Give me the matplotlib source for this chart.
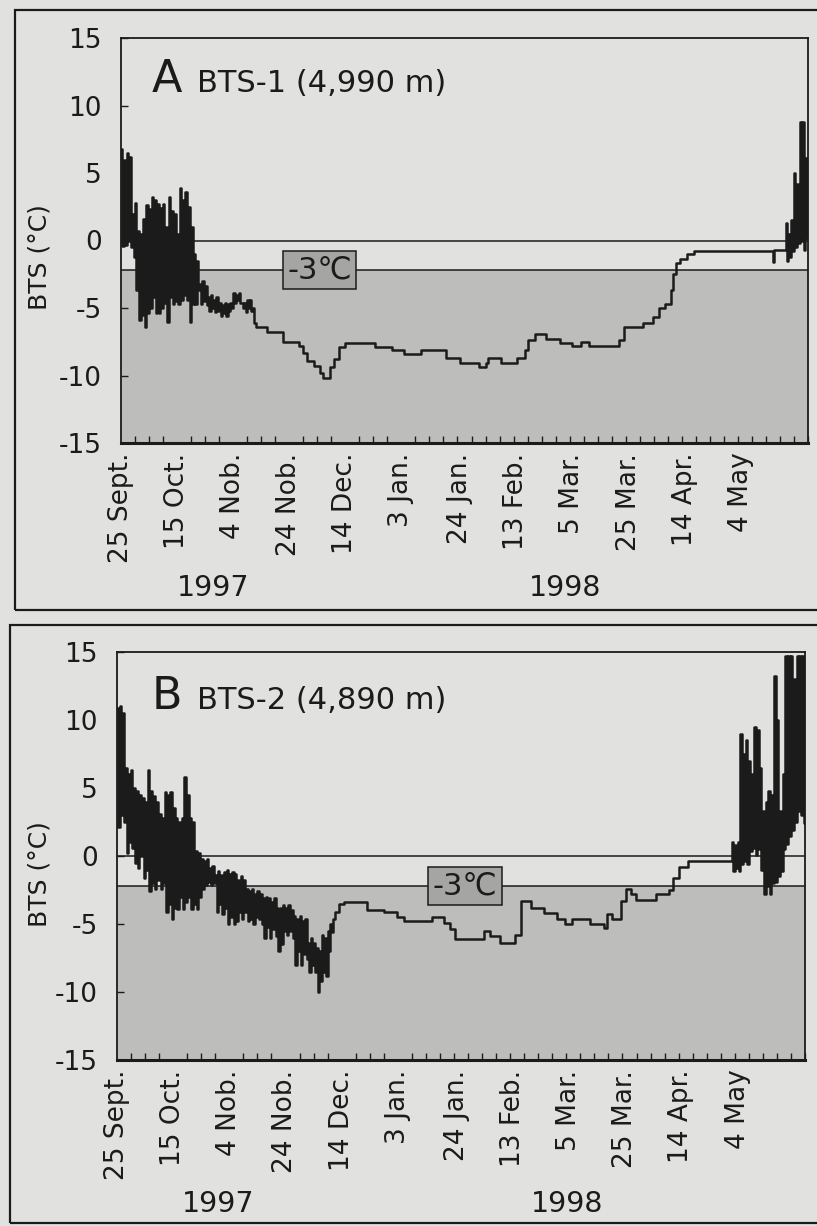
import matplotlib
matplotlib.use("Agg")
import matplotlib.pyplot as plt
from matplotlib.patches import Rectangle

plt.rcParams['font.family'] = ['DejaVu Sans', 'Noto Sans CJK JP']
plt.rcParams['axes.unicode_minus'] = False

# x axis: days after 25 Sept. 1997
tick_days = [0, 20, 40, 60, 80, 100, 121, 141, 161, 181, 201, 221]
tick_labels = ['25 Sept.', '15 Oct.', '4 Nob.', '24 Nob.', '14 Dec.', '3 Jan.',
               '24 Jan.', '13 Feb.', '5 Mar.', '25 Mar.', '14 Apr.', '4 May']
y_ticks = [15, 10, 5, 0, -5, -10, -15]
threshold = -2.2   # drawn position of the "-3℃" line

# ---------------- BTS-1 (4,990 m) ----------------
# daily max / min in the noisy autumn part (day 0..47)
a_start_hi = [6.8, 6.0, 6.5, 6.2, 2.0, 2.8, 0.7, 0.5, 1.6, 2.6, 2.3, 3.2, 3.0, 2.7, 2.4, 2.7,
              1.0, 3.2, 2.2, 2.0, 0.5, 3.9, 3.0, 3.6, 2.5, 1.0, -1.0, -1.5, -3.2, -3.0, -3.4, -4.2,
              -4.0, -4.4, -4.2, -4.6, -4.8, -4.6, -4.7, -4.6, -3.9, -4.0, -3.9, -4.6, -4.6, -4.4,
              -4.4, -5.0]
a_start_lo = [-0.4, -0.3, 0.0, -0.5, -1.2, -3.7, -5.9, -5.5, -6.4, -5.4, -5.0, -4.2, -5.4, -5.4,
              -5.0, -4.6, -6.0, -4.2, -4.7, -4.5, -4.7, -4.4, -4.0, -4.4, -6.0, -4.7, -4.7, -3.7,
              -4.7, -4.5, -4.8, -5.2, -5.0, -5.3, -5.2, -5.6, -5.4, -5.6, -5.2, -5.0, -4.6, -4.4,
              -4.6, -5.0, -5.3, -5.0, -5.2, -6.1]
# step part (day where value starts, value)
a_step_day = [48, 52, 57.6, 63.5, 65, 66.5, 69, 71, 72, 74.7, 76, 77.7, 80, 90.7, 96.6, 101,
              107, 116, 121, 127.5, 130, 131, 135.5, 141.4, 144, 145, 147.5, 151.5, 156.4, 161,
              164, 167, 177.7, 179.5, 186, 189.6, 192, 194, 196, 197, 198, 199.5, 202, 204.5,
              206.8, 232.4, 233]
a_step_val = [-6.4, -6.8, -7.5, -7.8, -8.3, -8.9, -9.3, -9.8, -10.2, -9.4, -8.8, -7.9, -7.6,
              -7.9, -8.1, -8.4, -8.1, -8.7, -9.1, -9.4, -9.1, -8.7, -9.1, -8.7, -8.1, -7.4, -6.9,
              -7.3, -7.6, -7.8, -7.5, -7.8, -7.4, -6.4, -6.1, -5.7, -5.0, -4.7, -3.7, -2.5, -1.7,
              -1.4, -1.0, -0.8, -0.75, -1.6, -0.7]
# daily max / min in the spring noisy part (day 237..244)
a_end_day0 = 237
a_end_hi = [1.3, 0.5, 1.5, 5.0, 4.2, 8.8, 8.8, 6.1]
a_end_lo = [-1.5, -1.2, -0.8, -0.5, -0.2, 0.0, -0.7, 0.2]

# ---------------- BTS-2 (4,890 m) ----------------
b_start_hi = [10.9, 11.0, 10.5, 6.5, 6.0, 6.3, 5.0, 4.8, 4.5, 4.3, 4.0, 6.3, 4.8, 4.4, 4.0, 3.1,
              2.8, 4.7, 4.5, 4.7, 3.5, 2.8, 2.5, 2.8, 5.8, 4.5, 2.8, 2.5, 0.4, 0.2, -0.2, -0.4,
              -0.2, -0.9, -0.7, -1.4, -1.1, -1.4, -1.2, -1.0, -1.3, -1.2, -1.3, -1.8, -1.5, -1.8,
              -2.4, -2.6, -2.4, -2.8, -2.6, -2.8, -3.1, -3.0, -3.1, -3.4, -3.1, -3.8, -3.8, -3.6,
              -3.8, -3.6, -4.0, -4.4, -4.6, -4.4, -4.8, -4.6, -6.4, -6.0, -6.4, -6.8, -7.0, -5.8,
              -6.0, -5.5, -5.0]
b_start_lo = [2.1, 3.0, 2.5, 0.2, 1.0, 0.6, -0.5, -0.9, 0.0, -1.6, -1.0, -2.6, -2.0, -2.4, -1.8,
              -2.4, -2.0, -4.1, -3.5, -4.6, -3.8, -3.9, -3.0, -3.9, -3.4, -3.0, -3.9, -3.5, -3.9,
              -3.0, -2.4, -2.1, -1.9, -2.1, -2.0, -4.1, -3.5, -4.3, -3.8, -5.0, -4.5, -5.0, -4.8,
              -4.1, -4.6, -4.1, -4.8, -4.6, -5.0, -4.5, -4.6, -5.0, -6.0, -5.2, -6.0, -5.4, -5.9,
              -7.0, -6.5, -5.5, -5.8, -5.5, -6.0, -8.0, -7.0, -8.0, -7.2, -7.6, -8.5, -8.0, -8.5,
              -10.0, -9.2, -8.5, -8.8, -7.0, -5.6]
b_step_day = [77, 77.5, 78.9, 80.7, 89, 95, 99.7, 102.1, 112.2, 116.3, 118.7, 120.5, 130.6, 133,
              136.5, 141.9, 143.7, 147.3, 152, 156.8, 159.7, 162.1, 168.6, 173.4, 174.6, 176.4,
              179.4, 181.2, 183, 184.8, 191.9, 196.7, 197.9, 200.3, 203.2]
b_step_val = [-4.6, -4.1, -3.5, -3.4, -4.0, -4.1, -4.5, -4.8, -4.5, -4.9, -5.4, -6.1, -5.5, -5.9,
              -6.4, -5.8, -3.3, -3.8, -4.2, -4.6, -5.0, -4.6, -5.0, -5.3, -4.3, -4.6, -3.3, -2.4,
              -2.8, -3.2, -2.8, -2.5, -1.6, -0.8, -0.4]
b_end_day0 = 219
b_end_hi = [1.0, 0.8, 1.0, 9.0, 7.5, 8.5, 7.0, 6.0, 9.5, 9.3, 6.5, 3.3, 4.0, 4.8, 4.5, 13.2,
            10.0, 3.3, 6.0, 14.7, 14.7, 14.7, 13.0, 14.7, 14.7, 14.7]
b_end_lo = [-1.1, -0.9, -1.1, -0.6, -0.4, -0.6, 0.4, 0.6, 0.1, 0.5, -1.0, -2.8, -2.2, -2.8,
            -2.0, -1.9, -1.5, -1.1, 0.5, 0.9, 1.5, 1.9, 2.5, 3.3, 3.0, 2.4]

PAPER = '#e1e1df'
SHADE = '#bdbdbb'
BOXC = '#a5a5a3'
INK = '#1b1b1b'


def build_series(start_hi, start_lo, step_day, step_val, end_day0, end_hi, end_lo):
    xs, ys = [], []
    for i in range(len(start_hi)):
        xs += [i, i + 0.5]
        ys += [start_hi[i], start_lo[i]]
    xs += list(step_day)
    ys += list(step_val)
    for i in range(len(end_hi)):
        xs += [end_day0 + i, end_day0 + i + 0.5]
        ys += [end_hi[i], end_lo[i]]
    xs.append(end_day0 + len(end_hi))
    ys.append(end_lo[-1])
    return xs, ys


def draw_panel(ax, letter, name, xs, ys, box_day, letter_xy):
    ax.set_facecolor(PAPER)
    ax.axhspan(-15, threshold, color=SHADE, zorder=0, lw=0)
    ax.axhline(0, color=INK, lw=1.1, zorder=1)
    ax.axhline(threshold, color=INK, lw=1.1, zorder=1)
    ax.plot(xs, ys, drawstyle='steps-post', color=INK, lw=1.8, zorder=3)
    ax.set_xlim(0, 245)
    ax.set_ylim(-15, 15)
    ax.set_yticks(y_ticks)
    ax.tick_params(axis='y', direction='in', length=5, width=1, labelsize=19, pad=14,
                   colors=INK)
    ax.set_xticks(tick_days)
    ax.set_xticklabels(tick_labels, rotation=90, ha='center', va='top')
    ax.set_xticks(range(0, 246, 5), minor=True)
    ax.tick_params(axis='x', which='major', length=0, labelsize=19, pad=7, colors=INK)
    ax.tick_params(axis='x', which='minor', direction='in', length=5, width=1, colors=INK)
    for s in ax.spines.values():
        s.set_color(INK)
        s.set_linewidth(1.3)
    ax.spines['bottom'].set_linewidth(2.2)
    ax.text(letter_xy[0], letter_xy[1], letter, fontsize=32, color=INK, va='baseline')
    ax.text(letter_xy[0] + 16, letter_xy[1], name, fontsize=22, color=INK, va='baseline')
    ax.text(box_day, threshold, '-3℃', fontsize=22, color=INK, ha='center', va='center',
            zorder=4, bbox=dict(boxstyle='square,pad=0.15', fc=BOXC, ec=INK, lw=1.1))


fig = plt.figure(figsize=(8.17, 12.26), dpi=100, facecolor=PAPER)

# panel frames
fig.add_artist(Rectangle((15 / 817, 1 - 610 / 1226), 1.2, 600 / 1226, transform=fig.transFigure,
                         fill=False, ec=INK, lw=1.6))
fig.add_artist(Rectangle((10 / 817, 1 - 1223 / 1226), 1.2, 598 / 1226, transform=fig.transFigure,
                         fill=False, ec=INK, lw=1.6))

axA = fig.add_axes([121 / 817, 1 - 443 / 1226, 687 / 817, 405 / 1226])
xa, ya = build_series(a_start_hi, a_start_lo, a_step_day, a_step_val, a_end_day0, a_end_hi, a_end_lo)
draw_panel(axA, 'A', 'BTS-1 (4,990 m)', xa, ya, 70.8, (11, 11.0))

axB = fig.add_axes([117 / 817, 1 - 1060 / 1226, 688 / 817, 408 / 1226])
xb, yb = build_series(b_start_hi, b_start_lo, b_step_day, b_step_val, b_end_day0, b_end_hi, b_end_lo)
draw_panel(axB, 'B', 'BTS-2 (4,890 m)', xb, yb, 124, (12.5, 10.8))

# y labels and years
for yc in [257, 874]:
    fig.text(40 / 817, 1 - yc / 1226, 'BTS (°C)', rotation=90, fontsize=18, color=INK,
             ha='center', va='center')
for x97, x98, yy in [(213, 565, 588), (218, 567, 1204)]:
    fig.text(x97 / 817, 1 - yy / 1226, '1997', fontsize=20.5, color=INK, ha='center', va='center')
    fig.text(x98 / 817, 1 - yy / 1226, '1998', fontsize=20.5, color=INK, ha='center', va='center')

fig.savefig('out.png', dpi=100, facecolor=PAPER)
